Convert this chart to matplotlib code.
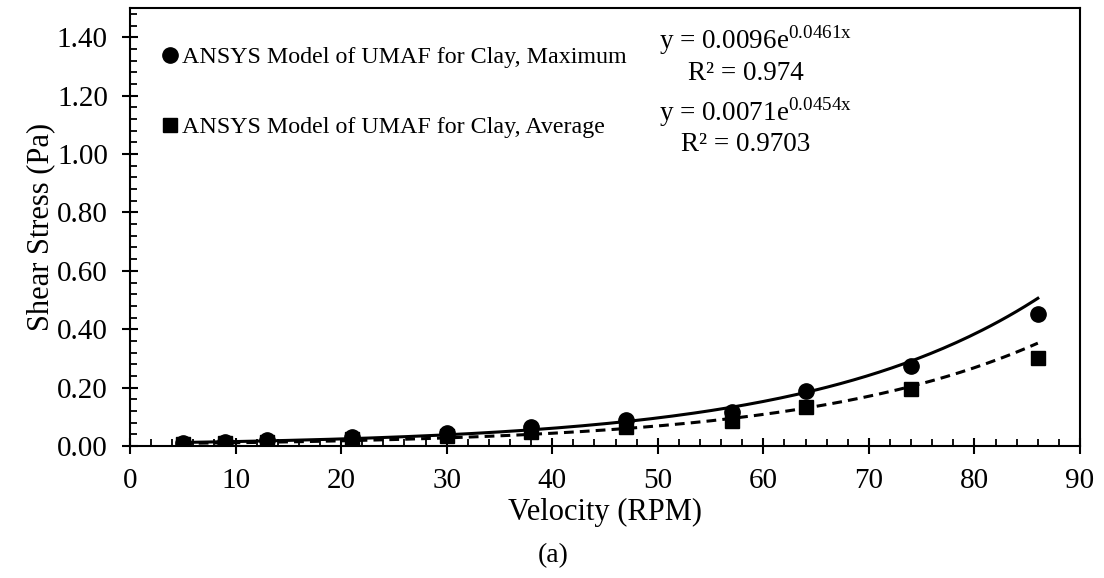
import numpy as np
import matplotlib
matplotlib.use("Agg")
import matplotlib.pyplot as plt
from matplotlib.ticker import MultipleLocator, FormatStrFormatter

plt.rcParams['font.family'] = ['Liberation Serif', 'DejaVu Serif']
plt.rcParams['mathtext.fontset'] = 'custom'
plt.rcParams['mathtext.rm'] = 'Liberation Serif'

# data
rpm = [5, 9, 13, 21, 30, 38, 47, 57, 64, 74, 86]
stress_max = [0.010, 0.015, 0.020, 0.032, 0.046, 0.064, 0.089, 0.118, 0.187, 0.273, 0.451]
stress_avg = [0.006, 0.010, 0.015, 0.025, 0.035, 0.049, 0.066, 0.086, 0.135, 0.195, 0.301]

# exponential trendlines y = a*exp(b*x)
fit_max = (0.0096, 0.0461)
fit_avg = (0.0071, 0.0454)

fig = plt.figure(figsize=(11.04, 5.78), dpi=100)
ax = fig.add_axes([0.1178, 0.2284, 0.8605, 0.7576])

ax.plot(rpm, stress_max, 'o', color='black', markersize=11,
        label='ANSYS Model of UMAF for Clay, Maximum')
ax.plot(rpm, stress_avg, 's', color='black', markersize=10,
        label='ANSYS Model of UMAF for Clay, Average')

xs = np.linspace(rpm[0], rpm[-1], 200)
ax.plot(xs, fit_max[0] * np.exp(fit_max[1] * xs), '-', color='black', lw=2.2)
ax.plot(xs, fit_avg[0] * np.exp(fit_avg[1] * xs), '--', color='black', lw=2.2,
        dashes=(3.2, 2))

ax.set_xlim(0, 90)
ax.set_ylim(0, 1.5)
ax.xaxis.set_major_locator(MultipleLocator(10))
ax.xaxis.set_minor_locator(MultipleLocator(2))
ax.yaxis.set_major_locator(MultipleLocator(0.2))
ax.yaxis.set_minor_locator(MultipleLocator(0.04))
ax.yaxis.set_major_formatter(FormatStrFormatter('%.2f'))
ax.tick_params(which='major', direction='inout', length=12, width=1.5, labelsize=21)
ax.tick_params(which='minor', direction='in', length=5, width=1.3)
ax.tick_params(axis='x', which='major', pad=10)
ax.tick_params(axis='y', which='major', pad=10)
for s in ax.spines.values():
    s.set_linewidth(1.5)

ax.set_xlabel('Velocity (RPM)', fontsize=22, labelpad=3)
ax.set_ylabel('Shear Stress (Pa)', fontsize=22, labelpad=1)

ax.legend(loc='upper left', bbox_to_anchor=(0.007, 0.962), frameon=False,
          fontsize=17.3, handletextpad=0.0, handlelength=1.0, labelspacing=2.0)

eq_size = 19.5
ax.text(0.658, 0.926, r'y = 0.0096e$^{\mathregular{0.0461x}}$', transform=ax.transAxes,
        ha='center', va='center', fontsize=eq_size)
ax.text(0.648, 0.850, r'R² = 0.974', transform=ax.transAxes,
        ha='center', va='center', fontsize=eq_size)
ax.text(0.658, 0.762, r'y = 0.0071e$^{\mathregular{0.0454x}}$', transform=ax.transAxes,
        ha='center', va='center', fontsize=eq_size)
ax.text(0.648, 0.688, r'R² = 0.9703', transform=ax.transAxes,
        ha='center', va='center', fontsize=eq_size)

fig.text(0.501, 0.038, '(a)', ha='center', va='center', fontsize=20)

fig.savefig('out.png', dpi=100)
